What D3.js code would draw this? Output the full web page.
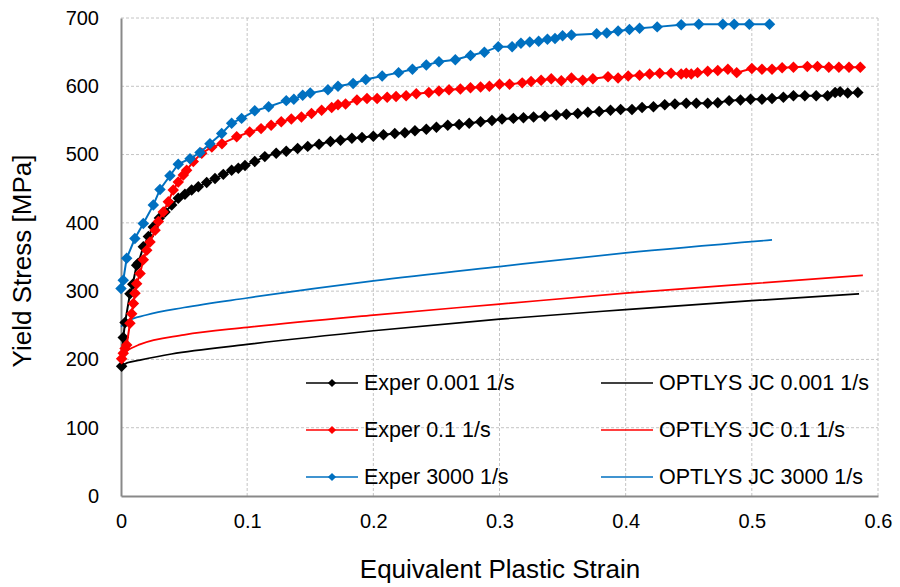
<!DOCTYPE html>
<html>
    <head>
        <meta charset="utf-8">
        <title>Yield stress vs equivalent plastic strain</title>
        <script type="text/javascript" src="https://cdn.jsdelivr.net/npm/d3@7/dist/d3.min.js"></script>
        <style>
            body { margin: 0; background: #fff; }
            text { font-family: "Liberation Sans", Arial, sans-serif; }
        </style>
    </head>

    <body>
        <svg></svg>
    </body>

    <script type="text/javascript">
        const WIDTH = 900;
        const HEIGHT = 587;

        // experimental data [strain, stress MPa]
        var experSlow = [[0.0005,190],[0.0018,232],[0.0032,254],[0.0071,296],[0.0093,310],[0.0124,338],[0.0137,341],[0.0177,365],[0.0217,380],[0.0256,394],[0.0304,407],[0.0349,416],[0.0402,426],[0.0454,436],[0.0507,442],[0.056,448],[0.0613,453],[0.0679,459],[0.0745,465],[0.0811,471],[0.0877,477],[0.093,480],[0.0983,484],[0.106,490],[0.114,497],[0.123,502],[0.131,505],[0.140,509],[0.148,512],[0.157,515],[0.166,519],[0.174,521],[0.183,524],[0.191,525],[0.200,527],[0.208,529],[0.217,531],[0.225,532],[0.233,535],[0.242,537],[0.250,540],[0.259,543],[0.268,544],[0.276,546],[0.285,548],[0.294,550],[0.302,552],[0.311,553],[0.319,554],[0.327,555],[0.336,556],[0.345,558],[0.353,559],[0.362,560],[0.370,562],[0.379,563],[0.388,565],[0.396,566],[0.405,566],[0.413,569],[0.422,570],[0.431,573],[0.439,574],[0.448,575],[0.456,575],[0.465,575],[0.473,576],[0.482,579],[0.491,580],[0.499,581],[0.508,581],[0.516,582],[0.525,584],[0.533,586],[0.542,586],[0.551,586],[0.560,586],[0.566,591],[0.570,592],[0.576,590],[0.584,591]];
        var experMid = [[0.0005,201],[0.0018,209],[0.0032,216],[0.0045,221],[0.0071,253],[0.0085,267],[0.0098,282],[0.0111,297],[0.0124,311],[0.0151,326],[0.0177,346],[0.0204,360],[0.023,372],[0.027,389],[0.0296,402],[0.0335,416],[0.0375,431],[0.0414,448],[0.0454,460],[0.0494,470],[0.052,477],[0.0573,490],[0.064,502],[0.072,511],[0.080,516],[0.0917,526],[0.102,533],[0.111,538],[0.119,543],[0.127,548],[0.135,552],[0.143,555],[0.151,560],[0.159,565],[0.167,569],[0.172,573],[0.178,574],[0.187,580],[0.195,582],[0.203,582],[0.211,584],[0.218,585],[0.226,586],[0.234,589],[0.244,591],[0.252,593],[0.260,595],[0.269,596],[0.277,598],[0.285,599],[0.292,600],[0.300,603],[0.308,603],[0.318,605],[0.325,607],[0.333,609],[0.341,611],[0.349,608],[0.357,612],[0.366,609],[0.374,611],[0.386,614],[0.394,612],[0.402,615],[0.411,616],[0.419,618],[0.427,619],[0.436,619],[0.444,618],[0.448,619],[0.452,618],[0.457,620],[0.465,622],[0.473,623],[0.481,625],[0.488,620],[0.500,626],[0.508,625],[0.516,625],[0.524,627],[0.533,628],[0.544,629],[0.552,629],[0.561,628],[0.569,628],[0.577,628],[0.586,628]];
        var experFast = [[0,304],[0.0018,316],[0.0045,348],[0.011,377],[0.0177,399],[0.0256,426],[0.0309,449],[0.0388,469],[0.0454,486],[0.0547,494],[0.0626,503],[0.0705,516],[0.0798,531],[0.0877,546],[0.0956,553],[0.106,564],[0.117,570],[0.131,579],[0.137,581],[0.144,587],[0.150,590],[0.164,595],[0.172,600],[0.184,604],[0.194,610],[0.207,615],[0.220,620],[0.231,625],[0.242,631],[0.252,636],[0.265,639],[0.277,645],[0.288,650],[0.299,658],[0.310,658],[0.317,663],[0.324,665],[0.331,666],[0.338,669],[0.344,670],[0.350,674],[0.357,675],[0.377,677],[0.385,678],[0.394,681],[0.403,683],[0.411,685],[0.425,687],[0.444,690],[0.458,691],[0.477,691],[0.486,691],[0.498,691],[0.514,691]];

        // OPTLYS Johnson-Cook fits [strain, stress MPa]
        var jcSlow = [[0,188],[0.002,192],[0.005,195],[0.015,199],[0.04,208],[0.1,222],[0.2,242],[0.3,259],[0.4,273],[0.5,286],[0.585,296]];
        var jcMid = [[0,203],[0.002,209],[0.005,213],[0.015,222],[0.05,236],[0.1,247],[0.2,265],[0.3,281],[0.4,297],[0.5,311],[0.588,323]];
        var jcFast = [[0,248],[0.005,256],[0.02,265],[0.05,276],[0.1,290],[0.2,315],[0.3,336],[0.4,356],[0.516,375]];

        var legendLabels = ["Exper 0.001 1/s", "Exper 0.1 1/s", "Exper 3000 1/s",
                            "OPTLYS JC 0.001 1/s", "OPTLYS JC 0.1 1/s", "OPTLYS JC 3000 1/s"];
        var seriesColors = ["#000000", "#ff0000", "#0070c0"];

        var xTicks = [0, 0.1, 0.2, 0.3, 0.4, 0.5, 0.6];
        var yTicks = [0, 100, 200, 300, 400, 500, 600, 700];

        var svg = d3.select("svg")
            .attr("width", WIDTH)
            .attr("height", HEIGHT);

        var x = d3.scaleLinear().domain([0, 0.6]).range([121, 878]);
        var y = d3.scaleLinear().domain([0, 700]).range([496, 18]);

        // grid
        svg.append("g").selectAll("line.hg")
            .data(yTicks.slice(1))
            .enter().append("line")
            .attr("x1", x(0)).attr("x2", x(0.6))
            .attr("y1", d => y(d)).attr("y2", d => y(d))
            .attr("stroke", "#c4c4c4").attr("stroke-dasharray", "3,2");
        svg.append("g").selectAll("line.vg")
            .data(xTicks.slice(1))
            .enter().append("line")
            .attr("y1", y(0)).attr("y2", y(700))
            .attr("x1", d => x(d)).attr("x2", d => x(d))
            .attr("stroke", "#c4c4c4").attr("stroke-dasharray", "3,2");

        // axes
        var yAxis = svg.append("g")
            .attr("transform", "translate(" + x(0) + ",0)")
            .call(d3.axisLeft(y).tickValues(yTicks).tickSize(0).tickPadding(22).tickFormat(d3.format("d")));
        var xAxis = svg.append("g")
            .attr("transform", "translate(0," + y(0) + ")")
            .call(d3.axisBottom(x).tickValues(xTicks).tickSize(0).tickPadding(18).tickFormat(d => d === 0 ? "0" : d3.format(".1f")(d)));
        [yAxis, xAxis].forEach(function(a) {
            a.select(".domain").attr("stroke", "#898989").attr("stroke-width", 2);
            a.selectAll("text").attr("font-size", "20px").attr("fill", "#000")
                .attr("font-family", "'Liberation Sans', Arial, sans-serif");
        });

        svg.append("text")
            .attr("transform", "translate(31,261) rotate(-90)")
            .attr("text-anchor", "middle")
            .attr("font-size", "26px")
            .text("Yield Stress [MPa]");
        svg.append("text")
            .attr("x", 500).attr("y", 578)
            .attr("text-anchor", "middle")
            .attr("font-size", "26px")
            .text("Equivalent Plastic Strain");

        var line = d3.line().x(d => x(d[0])).y(d => y(d[1]));
        var smooth = d3.line().x(d => x(d[0])).y(d => y(d[1])).curve(d3.curveMonotoneX);
        var diamond = d3.symbol().type(d3.symbolSquare);

        // JC model lines
        [jcSlow, jcMid, jcFast].forEach(function(s, i) {
            svg.append("path")
                .attr("d", smooth(s))
                .attr("fill", "none")
                .attr("stroke", seriesColors[i])
                .attr("stroke-width", 1.7);
        });

        // experimental lines with diamond markers
        [experSlow, experMid, experFast].forEach(function(s, i) {
            var g = svg.append("g");
            g.append("path")
                .attr("d", line(s))
                .attr("fill", "none")
                .attr("stroke", seriesColors[i])
                .attr("stroke-width", 2);
            g.selectAll("path.m")
                .data(s)
                .enter().append("path")
                .attr("d", diamond.size(66)())
                .attr("transform", d => "translate(" + x(d[0]) + "," + y(d[1]) + ") rotate(45)")
                .attr("fill", seriesColors[i]);
        });

        // legend
        var legend = svg.append("g");
        legendLabels.forEach(function(label, i) {
            var col = Math.floor(i / 3), row = i % 3;
            var lx = col === 0 ? 306 : 601;
            var ly = 383 + row * 47;
            var color = seriesColors[row];
            legend.append("line")
                .attr("x1", lx).attr("x2", lx + 52)
                .attr("y1", ly).attr("y2", ly)
                .attr("stroke", color).attr("stroke-width", 1.7);
            if (col === 0) {
                legend.append("path")
                    .attr("d", diamond.size(34)())
                    .attr("transform", "translate(" + (lx + 26) + "," + ly + ") rotate(45)")
                    .attr("fill", color);
            }
            legend.append("text")
                .attr("x", lx + 58).attr("y", ly + 7)
                .attr("font-family", "Lato, 'Open Sans', sans-serif")
                .attr("font-size", "21.5px")
                .text(label);
        });
    </script>
</html>
